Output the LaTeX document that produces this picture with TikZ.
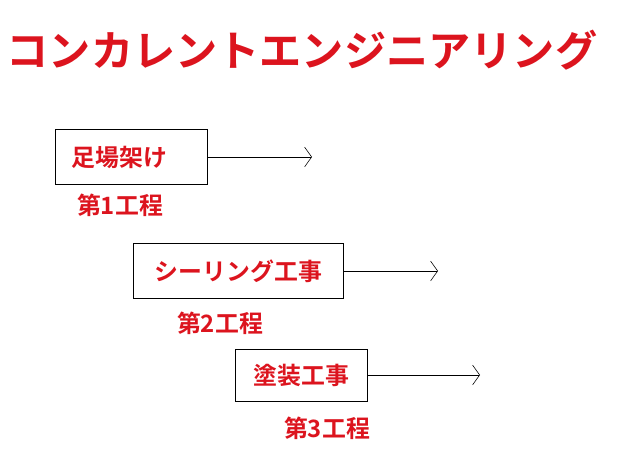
\documentclass[tikz,border=0pt]{standalone}
\usepackage{fontspec}
\newfontfamily\jpfont{Noto Sans CJK JP}[BoldFont={* Bold}]
\usetikzlibrary{positioning,arrows.meta}
\definecolor{kred}{RGB}{220,20,30}
\tikzset{font=\jpfont}

\begin{document}
\begin{tikzpicture}[x=0.025cm,y=-0.025cm]
	\tikzstyle{every node}=[inner sep=1pt]
	\tikzstyle{work}=[draw, thin, text=kred, font=\jpfont\bfseries\fontsize{17}{19}\selectfont, anchor=west, inner xsep=3pt]
	\tikzstyle{stage}=[text=kred, font=\jpfont\bfseries\fontsize{17}{19}\selectfont]
	\tikzstyle{flow}=[thin, -{Straight Barb[length=5pt,width=14pt]}]
	\useasboundingbox (0,0) rectangle (620,471);

	\node[text=kred, font=\jpfont\bfseries\fontsize{30}{34}\selectfont] (title) at (302,50) {コンカレントエンジニアリング};

	\node[work, minimum width=3.8cm, minimum height=1.375cm, text width=3.4cm, align=left] (ashiba) at (55,157) {\hspace{0.2cm}足場架け};
	\node[work, minimum width=5.25cm, minimum height=1.375cm] (sealing) at (133,271) {シーリング工事};
	\node[work, minimum width=3.3cm, minimum height=1.3cm] (tosou) at (235,375) {塗装工事};

	\coordinate (e1) at (312,157);
	\coordinate (e2) at (438,271);
	\coordinate (e3) at (480,375);
	\draw[flow] (ashiba.east) -- (e1);
	\draw[flow] (sealing.east) -- (e2);
	\draw[flow] (tosou.east) -- (e3);

	\node[stage] (s1) at (120,205) {第1工程};
	\node[stage] (s2) at (220,323) {第2工程};
	\node[stage] (s3) at (327,428) {第3工程};
\end{tikzpicture}
\end{document}
